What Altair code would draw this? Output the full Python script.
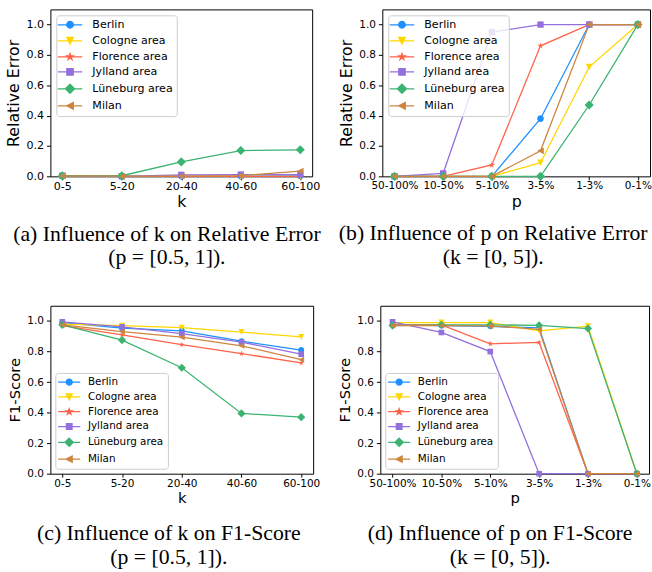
import math
import altair as alt
import pandas as pd

# ---------------- data ----------------
series = ["Berlin", "Cologne area", "Florence area", "Jylland area", "Lüneburg area", "Milan"]
colors = ["#1E90FF", "#FFD700", "#FF6347", "#9370DB", "#3CB371", "#CD853F"]

k_labels = ["0-5", "5-20", "20-40", "40-60", "60-100"]
p_labels = ["50-100%", "10-50%", "5-10%", "3-5%", "1-3%", "0-1%"]

# (a) relative error vs k
re_k_berlin = [0.0, 0.0, 0.0, 0.0, 0.003]
re_k_cologne = [0.0, 0.0, 0.0, 0.0, 0.0]
re_k_florence = [0.0, 0.0, 0.0, 0.0, 0.0]
re_k_jylland = [0.005, 0.0, 0.01, 0.012, 0.012]
re_k_luneburg = [0.003, 0.004, 0.095, 0.17, 0.175]
re_k_milan = [0.003, 0.001, 0.002, 0.005, 0.035]

# (b) relative error vs p
re_p_berlin = [0.0, 0.0, 0.0, 0.38, 1.0, 1.0]
re_p_cologne = [0.0, 0.0, 0.0, 0.09, 0.72, 1.0]
re_p_florence = [0.0, 0.0, 0.075, 0.86, 1.0, 1.0]
re_p_jylland = [0.0, 0.02, 0.95, 1.0, 1.0, 1.0]
re_p_luneburg = [0.0, 0.0, 0.0, 0.0, 0.47, 1.0]
re_p_milan = [0.0, 0.0, 0.0, 0.168, 1.0, 1.0]

# (c) F1 vs k
f1_k_berlin = [0.99, 0.953, 0.936, 0.868, 0.81]
f1_k_cologne = [0.98, 0.97, 0.957, 0.928, 0.896]
f1_k_florence = [0.97, 0.91, 0.845, 0.787, 0.726]
f1_k_jylland = [0.995, 0.962, 0.918, 0.862, 0.783]
f1_k_luneburg = [0.975, 0.875, 0.694, 0.395, 0.37]
f1_k_milan = [0.975, 0.93, 0.894, 0.838, 0.747]

# (d) F1 vs p
f1_p_berlin = [0.975, 0.97, 0.965, 0.955, 0.0, 0.0]
f1_p_cologne = [0.99, 0.99, 0.99, 0.936, 0.966, 0.0]
f1_p_florence = [0.975, 0.975, 0.851, 0.86, 0.0, 0.0]
f1_p_jylland = [0.995, 0.925, 0.80, 0.0, 0.0, 0.0]
f1_p_luneburg = [0.97, 0.975, 0.975, 0.972, 0.951, 0.0]
f1_p_milan = [0.97, 0.97, 0.968, 0.945, 0.0, 0.0]

y_ticks = [0.0, 0.2, 0.4, 0.6, 0.8, 1.0]

captions = {
    "a": ["(a) Influence of k on Relative Error", "(p = [0.5, 1])."],
    "b": ["(b) Influence of p on Relative Error", "(k = [0, 5])."],
    "c": ["(c) Influence of k on F1-Score", "(p = [0.5, 1])."],
    "d": ["(d) Influence of p on F1-Score", "(k = [0, 5])."],
}

# ---------------- marker styles ----------------
def star_pts():
    pts = []
    for i in range(10):
        ang = math.radians(-90 + 36 * i)
        r = 1.0 if i % 2 == 0 else 0.382
        pts.append((r * math.cos(ang), r * math.sin(ang)))
    return pts

marker_shapes = [
    "circle",
    [(-1, -1), (1, -1), (0, 1)],
    star_pts(),
    [(-0.95, -0.95), (0.95, -0.95), (0.95, 0.95), (-0.95, 0.95)],
    [(0, -1.38), (1.38, 0), (0, 1.38), (-1.38, 0)],
    [(-1, 0), (1, -1), (1, 1)],
]


def marker_path(shape, s):
    if shape == "circle":
        return f"M{-s:.3f},0A{s:.3f},{s:.3f} 0 1,0 {s:.3f},0A{s:.3f},{s:.3f} 0 1,0 {-s:.3f},0Z"
    return "M" + "L".join(f"{x * s:.3f},{y * s:.3f}" for x, y in shape) + "Z"


point_paths = [marker_path(m, 1.0) for m in marker_shapes]
legend_paths = ["M-3.1,0H3.1" + marker_path(m, 0.84) for m in marker_shapes]


def make_df(cats, values):
    rows = []
    for name, vals in zip(series, values):
        for i, (c, v) in enumerate(zip(cats, vals)):
            rows.append({"cat": c, "idx": i, "value": v, "series": name})
    return pd.DataFrame(rows)


def panel(cats, values, xtitle, ytitle, caption, legend_orient, small, width, height, cap_dx):
    df = make_df(cats, values)
    if small:
        tick_fs, leg_fs, tfs, msize = 10.6, 10.5, 15, 36
    else:
        tick_fs, leg_fs, tfs, msize = (11.2 if len(cats) == 5 else 10.6), 11.2, 16, 45
    pad = 0.2 if len(cats) == 5 else 0.25
    x = alt.X("cat:N", sort=cats, scale=alt.Scale(type="point", padding=pad),
              axis=alt.Axis(title=xtitle, labelAngle=0, labelFontSize=tick_fs, titleFontSize=tfs,
                            labelOverlap=False, labelPadding=1, titlePadding=2, tickSize=3.5))
    y = alt.Y("value:Q", scale=alt.Scale(domain=[0, 1.1], nice=False, zero=True),
              axis=alt.Axis(title=ytitle, values=y_ticks, format=".1f", labelFontSize=tick_fs,
                            titleFontSize=tfs))
    cscale = alt.Scale(domain=series, range=colors)
    base = alt.Chart(df)
    lines = base.mark_line(strokeWidth=1.3).encode(
        x=x, y=y, order=alt.Order("idx:Q"),
        color=alt.Color("series:N", scale=cscale, legend=None),
    )
    pts = base.mark_point(filled=True, opacity=1, size=msize, strokeWidth=0).encode(
        x=x, y=y,
        color=alt.Color("series:N", scale=cscale, legend=None),
        shape=alt.Shape("series:N", scale=alt.Scale(domain=series, range=point_paths), legend=None),
    )
    if small:
        lg = dict(symbolSize=52, symbolOffset=4.8, labelOffset=13.7, rowPadding=3.0, offset=5)
        cap_offset = 18.5
    else:
        lg = dict(symbolSize=64, symbolOffset=4.3, labelOffset=17, rowPadding=3.2, offset=6)
        cap_offset = 14.5
    legend = alt.Legend(
        title=None, orient=legend_orient, padding=4,
        labelFont="DejaVu Sans", labelFontSize=leg_fs, labelColor="black",
        symbolStrokeWidth=1.3, symbolOpacity=1, symbolFillColor="black", symbolStrokeColor="black",
        fillColor="rgba(255,255,255,0.8)", strokeColor="#cccccc", cornerRadius=3,
        **lg,
    )
    leg_layer = base.mark_point(filled=True, opacity=0, size=msize).encode(
        x=x, y=y,
        fill=alt.Fill("series:N", scale=alt.Scale(domain=series, range=colors), legend=legend),
        stroke=alt.Stroke("series:N", scale=alt.Scale(domain=series, range=colors), legend=legend),
        shape=alt.Shape("series:N", scale=alt.Scale(domain=series, range=legend_paths), legend=legend),
    )
    ch = alt.layer(lines, pts, leg_layer).resolve_scale(
        fill="independent", stroke="independent", shape="independent"
    ).properties(
        width=width, height=height,
        title=alt.TitleParams(text=caption, orient="bottom", anchor="middle", frame="bounds",
                              font="Liberation Serif", fontSize=22, fontWeight="normal",
                              lineHeight=24, offset=cap_offset, dx=cap_dx, color="black"),
    )
    return ch


pa = panel(k_labels, [re_k_berlin, re_k_cologne, re_k_florence, re_k_jylland, re_k_luneburg, re_k_milan],
           "k", "Relative Error", captions["a"], "top-left", False, 265, 169, 4)
pb = panel(p_labels, [re_p_berlin, re_p_cologne, re_p_florence, re_p_jylland, re_p_luneburg, re_p_milan],
           "p", "Relative Error", captions["b"], "top-left", False, 271, 169, -2)
pc = panel(k_labels, [f1_k_berlin, f1_k_cologne, f1_k_florence, f1_k_jylland, f1_k_luneburg, f1_k_milan],
           "k", "F1-Score", captions["c"], "bottom-left", True, 266, 170, 5)
pd_ = panel(p_labels, [f1_p_berlin, f1_p_cologne, f1_p_florence, f1_p_jylland, f1_p_luneburg, f1_p_milan],
            "p", "F1-Score", captions["d"], "bottom-left", True, 272, 170, 6)

top = alt.hconcat(pa, pb, spacing=16)
bottom = alt.hconcat(pc, pd_, spacing=16)

chart = alt.vconcat(top, bottom, spacing=36).properties(
    padding={"left": 5, "top": 5, "right": 0, "bottom": 0},
    background="white",
).configure_view(stroke="black", strokeWidth=1).configure_axis(
    domain=False, grid=False, ticks=True, tickColor="black", tickSize=4, tickWidth=1,
    labelColor="black", titleColor="black", labelFont="DejaVu Sans", titleFont="DejaVu Sans",
    titleFontWeight="normal", labelPadding=3, titlePadding=4,
)

chart.save("out.html", embed_options={"renderer": "svg", "actions": False})
